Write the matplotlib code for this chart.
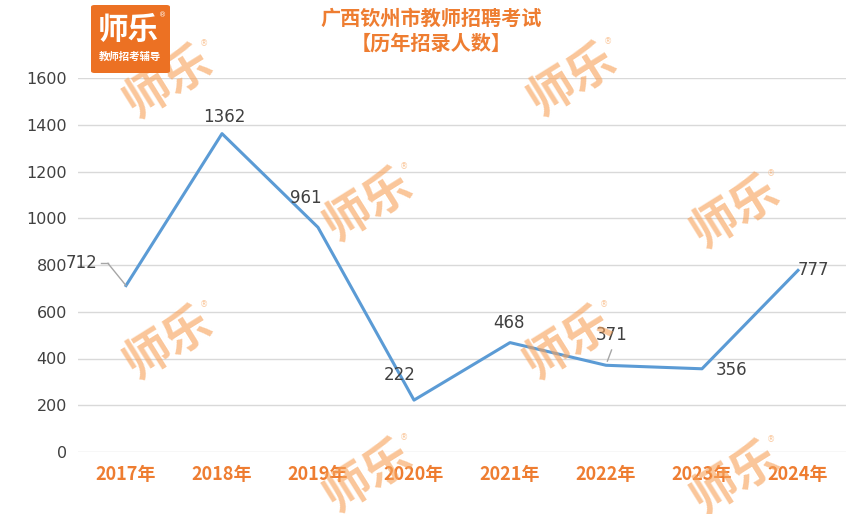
import matplotlib
matplotlib.use("Agg")
import matplotlib.pyplot as plt
import matplotlib.transforms as mtransforms
from matplotlib.patches import FancyBboxPatch

plt.rcParams['font.family'] = ['Noto Sans CJK SC', 'DejaVu Sans']

years = ['2017年', '2018年', '2019年', '2020年', '2021年', '2022年', '2023年', '2024年']
counts = [712, 1362, 961, 222, 468, 371, 356, 777]
yticks = [0, 200, 400, 600, 800, 1000, 1200, 1400, 1600]
title1 = '广西钦州市教师招聘考试'
title2 = '【历年招录人数】'

W, H = 862, 514
fig = plt.figure(figsize=(W / 100, H / 100), dpi=100)
ax = fig.add_axes([78 / W, (H - 452) / H, (846 - 78) / W, (452 - 78) / H])

x = list(range(len(years)))
ax.plot(x, counts, color='#5B9BD5', lw=2.2, zorder=3)
ax.set_xlim(-0.5, 7.5)
ax.set_ylim(0, 1600)
ax.set_yticks(yticks)
ax.set_yticklabels([str(v) for v in yticks], fontsize=11.5, color='#404040', family='DejaVu Sans')
ax.set_xticks(x)
ax.set_xticklabels(years, fontsize=13, color='#EE7D31', fontweight='bold')
ax.tick_params(length=0)
ax.tick_params(axis='y', pad=8)
ax.tick_params(axis='x', pad=9)
for s in ax.spines.values():
    s.set_visible(False)
ax.grid(axis='y', color='#D9D9D9', lw=1)
ax.set_axisbelow(True)

# data labels (offsets in points)
offsets = [(-32, 16), (2, 12), (-9, 21), (-10, 18), (-1, 14), (4, 22), (21, -1), (0, 0)]
for i, (v, off) in enumerate(zip(counts, offsets)):
    ax.annotate(str(v), (i, v), xytext=off, textcoords='offset points',
                ha='center', va='center', fontsize=12, color='#404040', family='DejaVu Sans', zorder=5)
ax.texts[-1].set_ha('left')
ax.texts[-1].set_position((7, counts[-1]))
ax.texts[-1].xyann = (0, 0)


def seg(i, p0, p1):
    t0 = ax.transData + mtransforms.ScaledTranslation(p0[0] / 72, p0[1] / 72, fig.dpi_scale_trans)
    t1 = ax.transData + mtransforms.ScaledTranslation(p1[0] / 72, p1[1] / 72, fig.dpi_scale_trans)
    inv = fig.transFigure.inverted()
    a = inv.transform(t0.transform((i, counts[i])))
    b = inv.transform(t1.transform((i, counts[i])))
    fig.add_artist(plt.Line2D([a[0], b[0]], [a[1], b[1]], color='#A6A6A6', lw=1,
                              transform=fig.transFigure, zorder=4))


# leader lines
seg(0, (0, 0), (-13, 16))
seg(0, (-13, 16), (-18, 16))
seg(5, (1, 3), (4, 11))

# titles
fig.text(431 / W, 1 - 18 / H, title1, ha='center', va='center', fontsize=14.5, color='#EE7D31', fontweight='bold')
fig.text(431 / W, 1 - 43 / H, title2, ha='center', va='center', fontsize=14.5, color='#EE7D31', fontweight='bold')

# watermarks
wm = [(168, 82), (572, 80), (368, 205), (735, 212), (168, 343), (568, 343), (368, 476), (735, 478)]
for (px, py) in wm:
    fig.text(px / W, 1 - py / H, '师乐', ha='center', va='center', fontsize=34, fontweight='heavy',
             color='#F7A35C', alpha=0.62, rotation=32, zorder=10)
    fig.text((px + 36) / W, 1 - (py - 38) / H, '®', ha='center', va='center', fontsize=6,
             color='#F7A35C', alpha=0.6, zorder=10, family='DejaVu Sans')

# logo
logo = FancyBboxPatch((91 / W, 1 - 73 / H), 79 / W, 68 / H, boxstyle='round,pad=0,rounding_size=0.004',
                      transform=fig.transFigure, facecolor='#EC7123', edgecolor='none', zorder=20)
fig.patches.append(logo)
fig.text(128 / W, 1 - 30 / H, '师乐', ha='center', va='center', fontsize=22, fontweight='heavy',
         color='white', zorder=21)
fig.text(130 / W, 1 - 57 / H, '教师招考辅导', ha='center', va='center', fontsize=7.5, fontweight='bold',
         color='white', zorder=21)
fig.text(163 / W, 1 - 15 / H, '®', ha='center', va='center', fontsize=5, color='white', zorder=21,
         family='DejaVu Sans')

fig.savefig('out.png', dpi=100)
